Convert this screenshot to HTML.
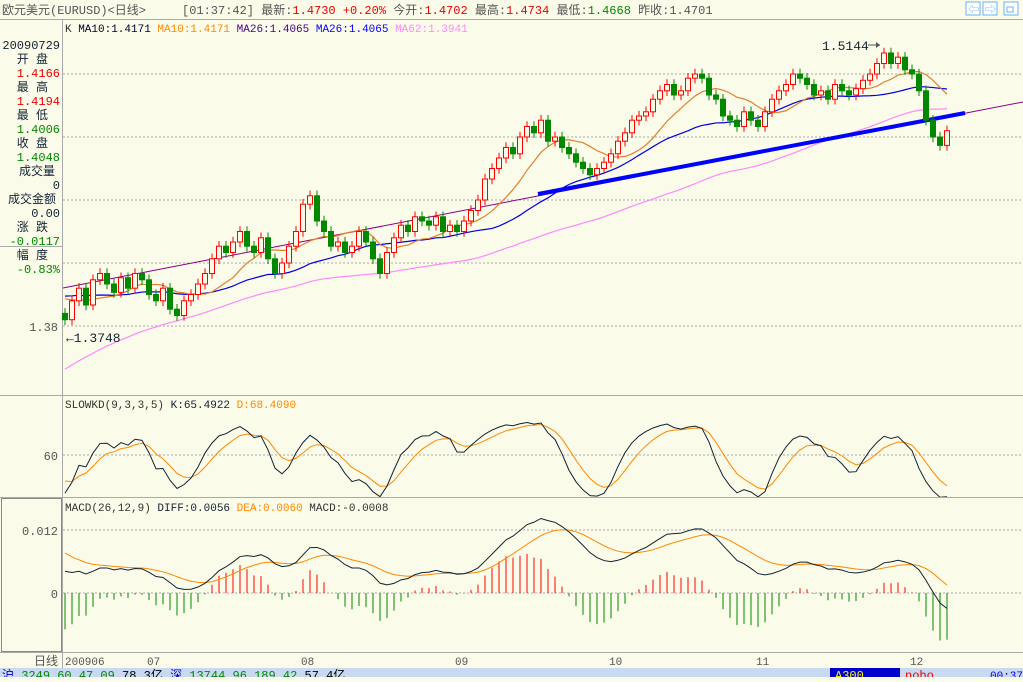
<!DOCTYPE html>
<html><head><meta charset="utf-8">
<style>
html,body{margin:0;padding:0;background:#fbfbe9;}
body{width:1023px;height:677px;overflow:hidden;position:relative;font-family:"Liberation Mono","Noto Sans CJK SC",monospace;}
svg text{font-family:"Liberation Mono","Noto Sans CJK SC",monospace;}
</style></head><body>
<svg id="chart" width="1023" height="677" xmlns="http://www.w3.org/2000/svg">
<defs>
<clipPath id="kdclip"><rect x="63" y="396" width="960" height="101"/></clipPath>
<clipPath id="macdclip"><rect x="63" y="498" width="960" height="154"/></clipPath>
</defs>
<rect x="0" y="0" width="1023" height="677" fill="#fbfbe9"/>
<g font-size="12">
<text x="2" y="14" fill="#555">欧元美元(EURUSD)&lt;日线&gt;</text>
<text x="182" y="14" fill="#555">[01:37:42] 最新:<tspan fill="#e00">1.4730 +0.20%</tspan> 今开:<tspan fill="#e00">1.4702</tspan> 最高:<tspan fill="#e00">1.4734</tspan> 最低:<tspan fill="#080">1.4668</tspan> 昨收:1.4701</text>
<rect x="966" y="2" width="14" height="13" fill="#fff" stroke="#6ab0f0"/>
<text x="968" y="13" font-size="11" fill="#6ab0f0">⇦</text>
<rect x="983" y="2" width="14" height="13" fill="#fff" stroke="#6ab0f0"/>
<text x="985" y="13" font-size="11" fill="#6ab0f0">⇨</text>
<rect x="1004" y="2" width="14" height="13" fill="#fff" stroke="#6ab0f0"/>
<rect x="1007" y="7" width="6" height="5" fill="none" stroke="#6ab0f0"/>
<line x1="0" y1="19.5" x2="1023" y2="19.5" stroke="#aaa"/>
</g>
<line x1="62.5" y1="20" x2="62.5" y2="668" stroke="#aaa"/>
<line x1="0" y1="395.5" x2="1023" y2="395.5" stroke="#aaa"/>
<line x1="0" y1="497.5" x2="1023" y2="497.5" stroke="#aaa"/>
<line x1="0" y1="652.5" x2="1023" y2="652.5" stroke="#aaa"/>
<line x1="0" y1="246.5" x2="62" y2="246.5" stroke="#aaa"/>
<rect x="1.5" y="498.5" width="60" height="153" fill="none" stroke="#888"/>
<g font-size="12" text-anchor="end">
<text x="60" y="49" fill="#123">20090729</text>
<text x="48" y="63" fill="#123">开 盘</text>
<text x="60" y="77" fill="#e00">1.4166</text>
<text x="48" y="91" fill="#123">最 高</text>
<text x="60" y="105" fill="#e00">1.4194</text>
<text x="48" y="119" fill="#123">最 低</text>
<text x="60" y="133" fill="#080">1.4006</text>
<text x="48" y="147" fill="#123">收 盘</text>
<text x="60" y="161" fill="#080">1.4048</text>
<text x="55" y="175" fill="#123">成交量</text>
<text x="60" y="189" fill="#123">0</text>
<text x="56" y="203" fill="#123">成交金额</text>
<text x="60" y="217" fill="#123">0.00</text>
<text x="48" y="231" fill="#123">涨 跌</text>
<text x="60" y="245" fill="#080">-0.0117</text>
<text x="48" y="259" fill="#123">幅 度</text>
<text x="60" y="273" fill="#080">-0.83%</text>
</g>
<g font-size="12" fill="#555" text-anchor="end">
<text x="58" y="331">1.38</text>
<text x="58" y="460">60</text>
<text x="58" y="535">0.012</text>
<text x="58" y="598">0</text>
<text x="58" y="665">日线</text>
</g>
<text x="65" y="32" font-size="11"><tspan fill="#333">K </tspan><tspan fill="#003">MA10:1.4171 </tspan><tspan fill="#f80">MA10:1.4171 </tspan><tspan fill="#408">MA26:1.4065 </tspan><tspan fill="#00f">MA26:1.4065 </tspan><tspan fill="#f8f">MA62:1.3941</tspan></text>
<text x="65" y="408" font-size="11"><tspan fill="#333">SLOWKD(9,3,3,5) </tspan><tspan fill="#123">K:65.4922 </tspan><tspan fill="#f80">D:68.4090</tspan></text>
<text x="65" y="511" font-size="11"><tspan fill="#333">MACD(26,12,9) </tspan><tspan fill="#123">DIFF:0.0056 </tspan><tspan fill="#f80">DEA:0.0060 </tspan><tspan fill="#333">MACD:-0.0008</tspan></text>
<g id="grid"></g>
<g id="marks"></g>
<g id="kdmarks" clip-path="url(#kdclip)"></g>
<g id="macdmarks" clip-path="url(#macdclip)"></g>
<rect x="0" y="668" width="1023" height="9" fill="#c9d9f1"/>
<text x="2" y="679" font-size="12" fill="#080"><tspan fill="#00c">沪</tspan> 3249.60  47.09  <tspan fill="#000">78.3亿</tspan>  <tspan fill="#00c">深</tspan> 13744.96  189.42  <tspan fill="#000">57.4亿</tspan></text>
<rect x="830" y="668" width="70" height="9" fill="#00c"/>
<text x="835" y="679" font-size="12" fill="#ff0">A300</text>
<text x="905" y="679" font-size="12" fill="#e00">nobo</text>
<text x="990" y="679" font-size="11" fill="#00c">00:37</text>
</svg>
<script>
const history = [1.262,1.268,1.275,1.281,1.289,1.295,1.300,1.305,1.310,1.315,1.318,1.322,1.326,1.328,1.330,1.332,1.331,1.333,1.335,1.338,1.340,1.342,1.344,1.346,1.348,1.350,1.352,1.355,1.358,1.361,1.364,1.367,1.370,1.372,1.375,1.378,
1.385,1.388,1.392,1.395,1.398,1.400,1.402,1.399,1.396,1.393,1.390,1.388,1.391,1.394,1.396,1.398,
1.400,1.398,1.396,1.394,1.397,1.399,1.395,1.392,1.390,1.386];
const closes = [1.383,1.392,1.398,1.390,1.402,1.405,1.400,1.396,1.403,1.398,1.405,1.402,
1.395,1.392,1.398,1.388,1.385,1.392,1.395,1.400,1.405,1.412,1.418,1.415,1.420,1.425,1.418,1.415,1.422,1.412,1.405,1.410,1.418,1.425,
1.438,1.442,1.430,1.425,1.418,1.420,1.415,1.418,1.425,1.420,1.412,1.405,1.415,1.422,1.428,1.425,1.432,1.430,1.428,1.432,1.425,1.428,
1.425,1.430,1.435,1.440,1.450,1.455,1.460,1.465,1.462,1.470,1.475,1.472,1.478,1.468,1.470,1.465,1.462,1.458,1.455,1.452,1.455,1.458,
1.462,1.468,1.472,1.478,1.480,1.482,1.488,1.492,1.495,1.490,1.492,1.498,1.500,1.498,1.490,1.488,1.480,1.478,1.475,1.482,1.478,
1.475,1.482,1.488,1.492,1.495,1.500,1.498,1.495,1.490,1.492,1.488,1.495,1.492,1.490,1.493,1.497,1.500,1.505,1.510,1.505,1.508,1.502,
1.500,1.492,1.478,1.470,1.466,1.473];
const monthLabels = ["200906","07","08","09","10","11","12"];
const monthStartIdx = [0,12,34,56,78,99,121];
const priceTicks = [1.38,1.41,1.44,1.47,1.50];
const kdTicks = [60];
const macdTicks = [0,0.012];

const NS="http://www.w3.org/2000/svg";
const g=document.getElementById('marks'), grid=document.getElementById('grid');
const gk=document.getElementById('kdmarks'), gm=document.getElementById('macdmarks');
function el(tag,attrs,parent){const e=document.createElementNS(NS,tag);for(const k in attrs)e.setAttribute(k,attrs[k]);(parent||g).appendChild(e);return e;}
const x0=65, dx=7.0;
const xs=i=>x0+i*dx;
const yP=p=>326-(p-1.38)/0.03*63;
const yK=v=>455-(v-60)*1.0;
const yM=v=>593-v/0.012*63;

priceTicks.forEach(t=>{const l=el('line',{x1:63,x2:1023,y1:yP(t),y2:yP(t),stroke:'#aaa','stroke-dasharray':'2,2'},grid);
});
kdTicks.forEach(t=>{const l=el('line',{x1:63,x2:1023,y1:yK(t),y2:yK(t),stroke:'#aaa','stroke-dasharray':'2,2'},grid);
});
macdTicks.forEach(t=>{const l=el('line',{x1:63,x2:1023,y1:yM(t),y2:yM(t),stroke:'#aaa','stroke-dasharray':'2,2'},grid);
});
monthLabels.forEach((m,k)=>{const t=el('text',{x:xs(monthStartIdx[k])+(k==0?0:-2),y:665,'font-size':11,fill:'#555'},grid);t.textContent=m;
});

const all=history.concat(closes), H=history.length, n=closes.length;
const opens=closes.map((c,i)=>all[H+i-1]);
const highs=closes.map((c,i)=>Math.max(c,opens[i])+0.0025);
const lows=closes.map((c,i)=>Math.min(c,opens[i])-0.0025);
function ma(p,i){let s=0;for(let k=0;k<p;k++)s+=all[H+i-k];return s/p;}
let t1=el('line',{x1:63,y1:288,x2:1023,y2:102,stroke:'#808','stroke-width':1});

[[62,'#f8f','ma62-line'],[26,'#00d','ma26-line'],[10,'#e08030','ma10-line']].forEach(([p,c,nm])=>{
 const pts=closes.map((_,i)=>xs(i)+','+yP(ma(p,i))).join(' ');
 const pl=el('polyline',{points:pts,fill:'none',stroke:c,'stroke-width':1.2});
 });
let t2=el('line',{x1:538,y1:194,x2:965,y2:113,stroke:'#00f','stroke-width':4});

closes.forEach((c,i)=>{
 const o=opens[i],x=xs(i),up=c>=o,col=up?'#f00':'#080';
 const w=el('line',{x1:x,x2:x,y1:yP(highs[i]),y2:yP(lows[i]),stroke:col});
 
 const top=yP(Math.max(o,c)),h=Math.max(1,Math.abs(yP(o)-yP(c)));
 const b=el('rect',{x:x-2.5,y:top,width:5,height:h,fill:up?'#fbfbe9':'#080',stroke:col});
 
});
let hi=0;highs.forEach((v,i)=>{if(v>highs[hi])hi=i;});
let hl=el('text',{x:822,y:50,'font-size':13,fill:'#123'});hl.textContent='1.5144';

let ha=el('line',{x1:868,y1:45,x2:xs(hi)-4,y2:45,stroke:'#555'});

el('path',{d:`M${xs(hi)-4},45 l-4,-3 v6 z`,fill:'#555'});
let ll=el('text',{x:66,y:342,'font-size':13,fill:'#123'});ll.textContent='←1.3748';


const AH=all.map((c,i)=>i>=H?highs[i-H]:c+0.0025), AL=all.map((c,i)=>i>=H?lows[i-H]:c-0.0025);
let K=50,D=50;const Ks=[],Ds=[];
for(let i=8;i<all.length;i++){let hh=-1,ll2=9;for(let k=0;k<9;k++){hh=Math.max(hh,AH[i-k]);ll2=Math.min(ll2,AL[i-k]);}
 const rsv=(all[i]-ll2)/(hh-ll2)*100;K=(2*K+rsv)/3;D=(2*D+K)/3;if(i>=H){Ks.push(K);Ds.push(D);}}
[[Ds,'#f80','kd-d-line'],[Ks,'#123','kd-k-line']].forEach(([arr,c,nm])=>{
 const pl=el('polyline',{points:arr.map((v,i)=>xs(i)+','+yK(v)).join(' '),fill:'none',stroke:c,'stroke-width':1},gk);
 });

let e12=all[0],e26=all[0],dea=0;const DIF=[],DEA=[];
all.forEach((c,i)=>{e12=e12+(c-e12)*2/13;e26=e26+(c-e26)*2/27;const d=e12-e26;dea=dea+(d-dea)*2/10;if(i>=H){DIF.push(d);DEA.push(dea);}});
DIF.forEach((d,i)=>{const m=2*(d-DEA[i]);const b=el('line',{x1:xs(i),x2:xs(i),y1:yM(0),y2:yM(m),stroke:m>=0?'#f00':'#080'},gm);
 });
[[DEA,'#f80','dea-line'],[DIF,'#123','diff-line']].forEach(([arr,c,nm])=>{
 const pl=el('polyline',{points:arr.map((v,i)=>xs(i)+','+yM(v)).join(' '),fill:'none',stroke:c,'stroke-width':1},gm);
 });
</script>
</body></html>
